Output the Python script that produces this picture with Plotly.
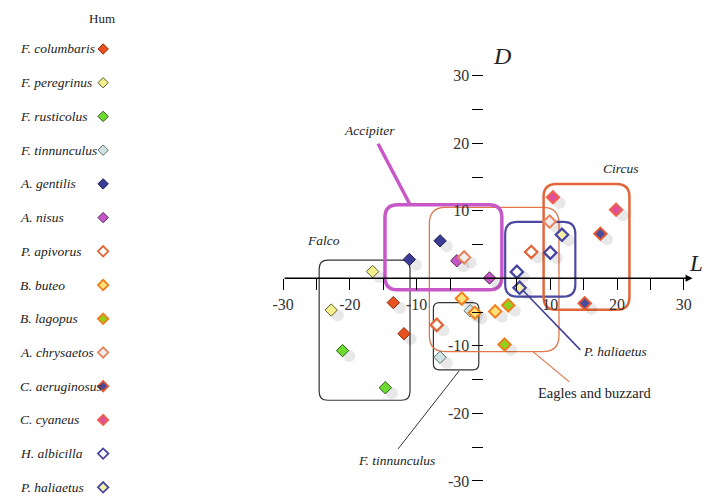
import plotly.graph_objects as go

# ---------------- data ----------------
species = ["F. columbaris", "F. peregrinus", "F. rusticolus", "F. tinnunculus",
           "A. gentilis", "A. nisus", "P. apivorus", "B. buteo", "B. lagopus",
           "A. chrysaetos", "C. aeruginosus", "C. cyaneus", "H. albicilla", "P. haliaetus"]

L_values = {
    "F. columbaris": [-13.5, -11.9],
    "F. peregrinus": [-16.6, -22.8],
    "F. rusticolus": [-21.1, -14.7],
    "F. tinnunculus": [-2.0, -6.5],
    "A. gentilis": [-11.1, -6.5],
    "A. nisus": [-4.0, 0.9],
    "P. apivorus": [-7.0, 7.15],
    "B. buteo": [-3.25, -1.3, 1.75],
    "B. lagopus": [3.7, 3.15],
    "A. chrysaetos": [-2.9, 9.9],
    "C. aeruginosus": [17.5, 15.15],
    "C. cyaneus": [10.4, 19.85],
    "H. albicilla": [5.0, 10.0],
    "P. haliaetus": [5.4, 11.75],
}
D_values = {
    "F. columbaris": [-3.6, -8.2],
    "F. peregrinus": [1.0, -4.7],
    "F. rusticolus": [-10.7, -16.2],
    "F. tinnunculus": [-4.8, -11.7],
    "A. gentilis": [2.8, 5.55],
    "A. nisus": [2.6, 0.05],
    "P. apivorus": [-6.9, 3.9],
    "B. buteo": [-3.0, -5.1, -4.9],
    "B. lagopus": [-4.0, -9.8],
    "A. chrysaetos": [3.1, 8.4],
    "C. aeruginosus": [6.6, -3.7],
    "C. cyaneus": [12.0, 10.15],
    "H. albicilla": [0.95, 3.8],
    "P. haliaetus": [-1.4, 6.45],
}

tick_major = [-30, -20, -10, 10, 20, 30]
tick_minor = [-25, -15, -5, 5, 15, 25]

# ---------------- styles ----------------
style = {
    "F. columbaris": ("#e8521e", "#8a2a10", 1.0),
    "F. peregrinus": ("#f3ef8c", "#5e5e30", 1.0),
    "F. rusticolus": ("#6ddb30", "#2d5a18", 1.0),
    "F. tinnunculus": ("#cfe3e3", "#5f6f6f", 1.0),
    "A. gentilis": ("#3c3c96", "#1e1e50", 1.0),
    "A. nisus": ("#c656c6", "#5a2a5a", 1.0),
    "P. apivorus": ("#ffffff", "#e2683a", 2.3),
    "B. buteo": ("#ffe27a", "#f07f1e", 2.0),
    "B. lagopus": ("#8ed21e", "#f07f1e", 2.0),
    "A. chrysaetos": ("#eeeeee", "#e8825a", 2.0),
    "C. aeruginosus": ("#4c4c9c", "#e85a30", 2.0),
    "C. cyaneus": ("#e0509a", "#f0604a", 2.0),
    "H. albicilla": ("#ffffff", "#4646a0", 2.3),
    "P. haliaetus": ("#f4f0a8", "#4646a0", 2.3),
}

W, H = 714, 499
OFF = 8                       # default body margin of the page
SERIF = "Liberation Serif"

# photographed picture = SX*page + BX (measured); invert so targets land in place
SX, BX = 0.972, 11.7
SY, BY = 0.9654, 7.6

def page_x(t):
    return (t - BX) / SX

def page_y(t):
    return (t - BY) / SY

def px(t):
    return (page_x(t) - OFF) / W

def py(t):
    return 1 - (page_y(t) - OFF) / H

# main axis geometry (target picture pixels -> paper fractions)
XD = [px(283.2), px(683.4)]
YD = [py(480), py(75)]
RX = [-30, 30]
RY = [-30, 30]
x0_paper = XD[0] + (0 - RX[0]) / (RX[1] - RX[0]) * (XD[1] - XD[0])
y0_paper = YD[0] + (0 - RY[0]) / (RY[1] - RY[0]) * (YD[1] - YD[0])

fig = go.Figure()

# soft shadows
sx, sy = [], []
for s in species:
    sx += [v + 1.0 for v in L_values[s]]
    sy += [v - 0.8 for v in D_values[s]]
fig.add_trace(go.Scatter(x=sx, y=sy, mode="markers", hoverinfo="skip",
                         marker=dict(symbol="circle", size=12, color="rgba(0,0,0,0.09)",
                                     line=dict(width=0)), showlegend=False))

for s in species:
    fill, line, lw = style[s]
    fig.add_trace(go.Scatter(x=L_values[s], y=D_values[s], mode="markers", name=s,
                             marker=dict(symbol="diamond", size=9.5, color=fill,
                                         line=dict(color=line, width=lw)),
                             showlegend=False))

# custom legend (left column) in target picture pixels
row_y = [48.3 + 33.7 * i for i in range(len(species))]
x2_range = [SX * OFF + BX, SX * (OFF + 0.25 * W) + BX]
y2_range = [SY * (OFF + H) + BY, SY * OFF + BY]
fig.add_trace(go.Scatter(
    x=[103.5] * len(species), y=row_y, mode="markers", xaxis="x2", yaxis="y2",
    hoverinfo="skip", showlegend=False, cliponaxis=False,
    marker=dict(symbol="diamond", size=8,
                color=[style[s][0] for s in species],
                line=dict(color=[style[s][1] for s in species],
                          width=[min(style[s][2], 1.8) for s in species]))))

annotations = []
for s, yy in zip(species, row_y):
    annotations.append(dict(x=x2_range[0] + 0.3, y=yy, xref="x2", yref="y2",
                            text="<i>" + s + "</i>",
                            showarrow=False, xanchor="left", yanchor="middle", borderpad=0,
                            font=dict(family=SERIF, size=13.5, color="#222")))
annotations.append(dict(x=px(102), y=py(18), xref="paper", yref="paper", text="Hum",
                        showarrow=False, xanchor="center", yanchor="middle", borderpad=0,
                        font=dict(family=SERIF, size=13, color="#222")))

# axis lines with arrowheads
annotations.append(dict(x=31.3, y=0, ax=-30, ay=0, xref="x", yref="y", axref="x", ayref="y",
                        text="", showarrow=True, arrowhead=2, arrowsize=1, arrowwidth=1.4,
                        arrowcolor="#000"))
annotations.append(dict(x=0, y=31.5, ax=0, ay=-30.2, xref="x", yref="y", axref="x", ayref="y",
                        text="", showarrow=True, arrowhead=2, arrowsize=1, arrowwidth=1.4,
                        arrowcolor="#000"))

# text labels
def lab(text, x, y, size=13.5, italic=True, xanchor="center"):
    t = "<i>" + text + "</i>" if italic else text
    annotations.append(dict(x=px(x), y=py(y), xref="paper", yref="paper", text=t,
                            showarrow=False, xanchor=xanchor, yanchor="middle", borderpad=0,
                            font=dict(family=SERIF, size=size, color="#222")))

lab("Accipiter", 369, 130)
lab("Falco", 324, 240)
lab("Circus", 621, 168)
lab("P. haliaetus", 615, 351)
lab("Eagles and buzzard", 594, 392, size=14.5, italic=False)
lab("F. tinnunculus", 396, 460)
lab("D", 502, 55, size=24)
lab("L", 703, 263, size=23, xanchor="right")

# rounded boxes (data coordinates)
def rbox(x0, x1, y0, y1, r, color, width):
    ry = r
    path = (f"M {x0 + r},{y1} L {x1 - r},{y1} Q {x1},{y1} {x1},{y1 - ry} "
            f"L {x1},{y0 + ry} Q {x1},{y0} {x1 - r},{y0} "
            f"L {x0 + r},{y0} Q {x0},{y0} {x0},{y0 + ry} "
            f"L {x0},{y1 - ry} Q {x0},{y1} {x0 + r},{y1} Z")
    return dict(type="path", path=path, xref="x", yref="y", layer="below",
                line=dict(color=color, width=width))

shapes = [
    rbox(-24.6, -11.0, -18.05, 2.7, 1.3, "#333333", 1.2),
    rbox(-7.5, -0.7, -13.55, -3.6, 0.9, "#333333", 1.2),
    rbox(-8.1, 11.3, -10.85, 10.5, 2.4, "#e0764a", 1.3),
    rbox(-14.75, 2.75, -1.7, 10.9, 1.9, "#c858c8", 3.5),
    rbox(3.25, 13.75, -2.7, 8.35, 1.8, "#4a4aa0", 2.2),
    rbox(9.0, 21.85, -4.65, 13.95, 1.9, "#e2663a", 2.5),
]

def pline(x0, y0, x1, y1, color, width):
    return dict(type="line", xref="paper", yref="paper", x0=px(x0), y0=py(y0),
                x1=px(x1), y1=py(y1), line=dict(color=color, width=width))

shapes += [
    pline(378, 143, 410, 204, "#c858c8", 3.5),
    pline(523, 290, 580, 349, "#3c3c96", 1.5),
    pline(533, 351, 569, 381, "#e0764a", 1.2),
    pline(398, 448, 459, 370, "#333333", 1.0),
]

axis_common = dict(showgrid=False, zeroline=False, showline=False,
                   ticks="outside", ticklen=11, tickwidth=1.3, tickcolor="#000",
                   tickfont=dict(family=SERIF, size=16, color="#333"),
                   minor=dict(tickvals=tick_minor, ticks="outside", ticklen=11,
                              tickwidth=1.3, tickcolor="#000"),
                   fixedrange=True)

fig.update_layout(
    width=W, height=H, autosize=False,
    margin=dict(l=0, r=0, t=0, b=0),
    paper_bgcolor="white", plot_bgcolor="rgba(0,0,0,0)",
    showlegend=False,
    xaxis=dict(domain=XD, range=RX, anchor="free", position=y0_paper,
               tickvals=tick_major, ticktext=[str(v) for v in tick_major], **axis_common),
    yaxis=dict(domain=YD, range=RY, anchor="free", position=x0_paper,
               tickvals=tick_major, ticktext=[str(v) for v in tick_major], **axis_common),
    xaxis2=dict(domain=[0, 0.25], range=x2_range, visible=False, fixedrange=True),
    yaxis2=dict(domain=[0, 1], range=y2_range, visible=False, fixedrange=True, anchor="x2"),
    annotations=annotations,
    shapes=shapes,
)

fig.write_html("out.html", config={"displayModeBar": False})
